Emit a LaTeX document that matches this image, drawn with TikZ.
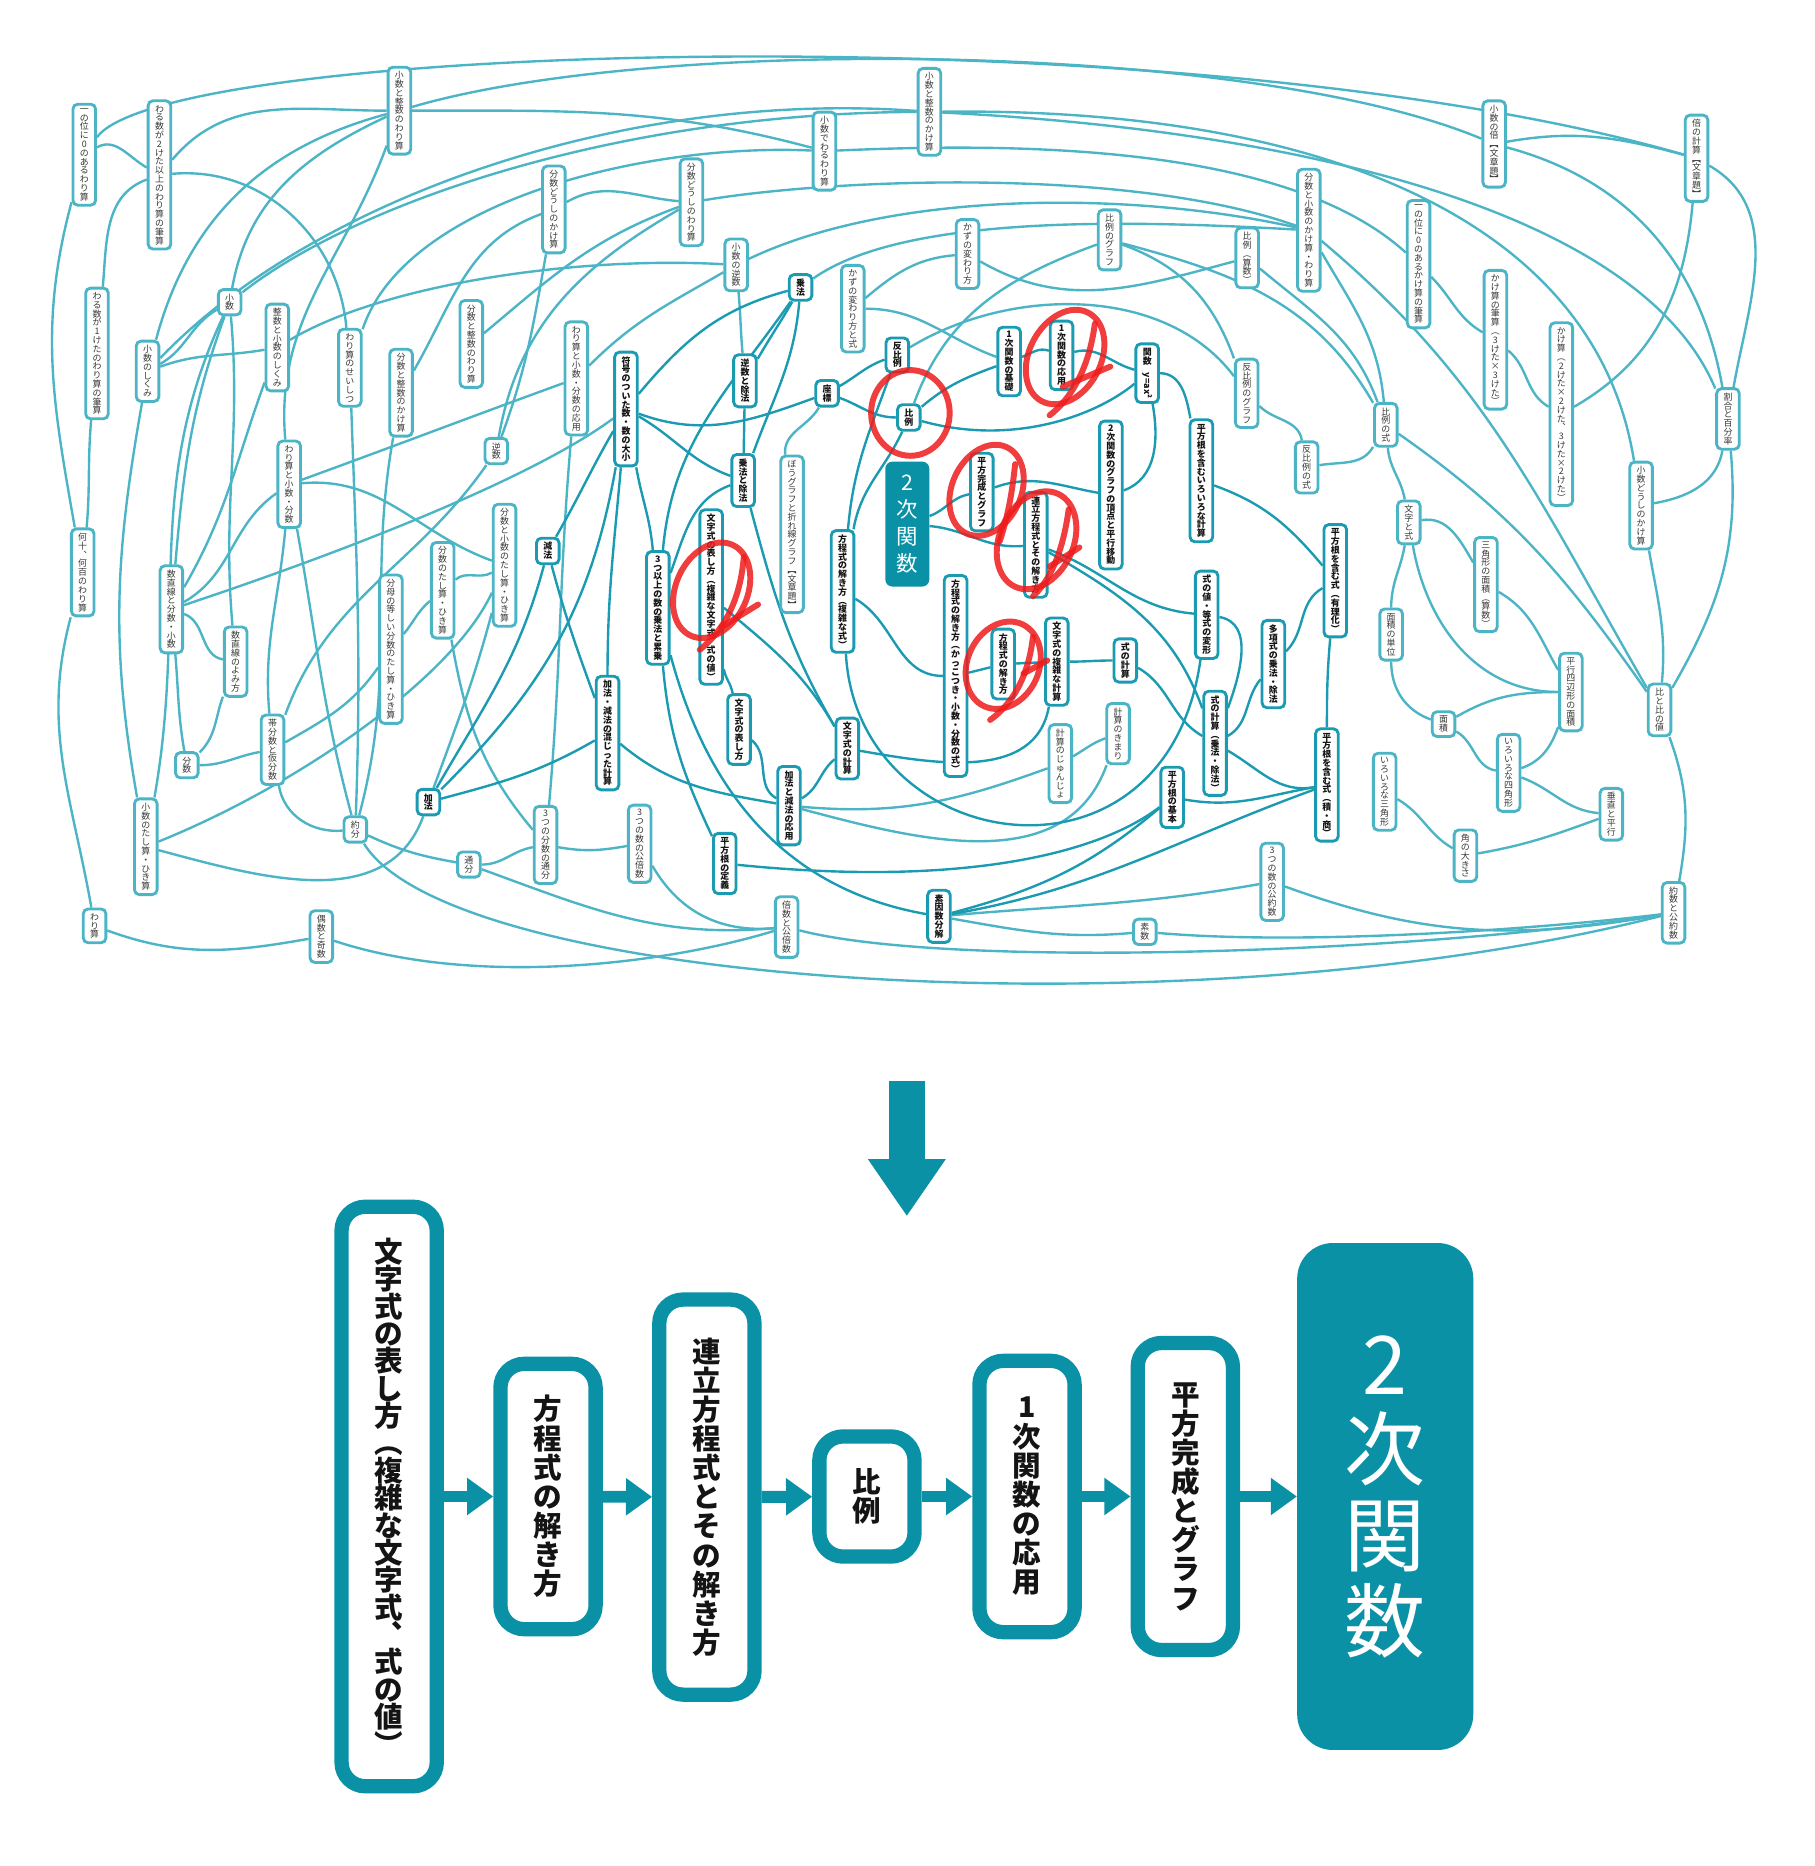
\documentclass[tikz,border=0pt]{standalone}
\usepackage{fontspec}
\setmainfont{Noto Sans CJK JP}
\usepackage{graphicx}
\usetikzlibrary{arrows.meta,backgrounds}

\definecolor{lineL}{HTML}{4BB4C5}
\definecolor{lineD}{HTML}{1A9BB1}
\definecolor{tealD}{HTML}{0A91A6}
\definecolor{textL}{HTML}{383838}
\definecolor{textD}{HTML}{141414}
\definecolor{markred}{HTML}{EE1C1C}

% one glyph per line
\makeatletter
\def\vt#1{\vt@a#1\vt@end}
\def\vt@end{}
\def\vt@a#1#2{#1\ifx#2\vt@end\expandafter\@gobble\else\expandafter\vt@b\fi{#2}}
\def\vt@b#1{\\\vt@a#1}
\makeatother
\newcommand\smallvt{\fontsize{7.5pt}{7.4pt}\selectfont\lineskiplimit=-30pt\relax}
\newcommand\stepvt{\fontsize{24pt}{24.5pt}\selectfont\bfseries\lineskiplimit=-30pt\relax}
\newcommand\steptight{\fontsize{24pt}{23pt}\selectfont\bfseries\lineskiplimit=-30pt\relax}
\newcommand\midvt{\fontsize{18pt}{22.5pt}\selectfont\lineskiplimit=-30pt\relax}
\newcommand\bigvt{\fontsize{68pt}{72pt}\selectfont\lineskiplimit=-40pt\relax}

\begin{document}
\begin{tikzpicture}[x=1pt,y=-1pt,
  el/.style={rectangle, rounded corners=4pt, draw=lineL, line width=2.4pt, fill=white,
             text=textL, font=\smallvt, align=center, inner xsep=4pt, inner ysep=3.5pt,
             minimum width=19pt},
  ms/.style={el, draw=lineD, text=textD, font=\smallvt\bfseries},
  lk/.style={draw=lineL, line width=2pt},
  dk/.style={draw=lineD, line width=2pt},
  stepbox/.style={rectangle, rounded corners=20pt, draw=tealD, line width=12pt, fill=white,
                  text=textD, font=\stepvt, align=center, inner sep=0pt, minimum width=80pt},
  flow/.style={draw=tealD, line width=10pt, -{Triangle[length=22pt,width=30pt]}},
  bigdown/.style={draw=tealD, line width=30pt, -{Triangle[length=48pt,width=62pt]}},
  redmark/.style={draw=markred, line width=5pt, opacity=.85, line cap=round}
]
\useasboundingbox (0,0) rectangle (1525,1568);

% elementary topics
\node[el] (ichi0w) at (70.8,130) {\vt{一の位に0のあるわり算}};
\node[el] (war2) at (134,147) {\vt{わる数が2けた以上のわり算の筆算}};
\node[el] (shoseiw) at (335.6,93) {\vt{小数と整数のわり算}};
\node[el] (shoseik) at (781,94) {\vt{小数と整数のかけ算}};
\node[el] (shodew) at (692.8,127) {\vt{小数でわるわり算}};
\node[el] (shobai) at (1255.5,121) {\vt{小数の倍︻文章題︼}};
\node[el] (baikei) at (1425.6,133) {\vt{倍の計算︻文章題︼}};
\node[el] (bunkake) at (465.4,176) {\vt{分数どうしのかけ算}};
\node[el] (bunwari) at (581,170) {\vt{分数どうしのわり算}};
\node[el] (bunshok) at (1099.8,193.5) {\vt{分数と小数のかけ算・わり算}};
\node[el] (ichi0k) at (1192,222) {\vt{一の位に0のあるかけ算の筆算}};
\node[el] (kazu) at (813,213.5) {\vt{かずの変わり方}};
\node[el] (hireig) at (932.4,201.6) {\vt{比例のグラフ}};
\node[el] (hireis) at (1048,216.7) {\vt{比例︵算数︶}};
\node[el] (shogyaku) at (618.6,222.6) {\vt{小数の逆数}};
\node[el] (kazushiki) at (716.6,259.4) {\vt{かずの変わり方と式}};
\node[el] (war1) at (81.5,297) {\vt{わる数が1けたのわり算の筆算}};
\node[el] (shosu) at (193,254) {\vt{小数}};
\node[el] (shoshiku) at (124,312) {\vt{小数のしくみ}};
\node[el] (seishoshiku) at (233,292) {\vt{整数と小数のしくみ}};
\node[el] (warisei) at (294,309) {\vt{わり算のせいしつ}};
\node[el] (bunseik) at (337,330) {\vt{分数と整数のかけ算}};
\node[el] (bunseiw) at (396,289) {\vt{分数と整数のわり算}};
\node[el] (warioyo) at (484.3,318) {\vt{わり算と小数・分数の応用}};
\node[el] (hanpig) at (1047.6,330.5) {\vt{反比例のグラフ}};
\node[el] (kake33) at (1256.6,285.5) {\vt{かけ算の筆算︵3けた×3けた︶}};
\node[el] (kake22) at (1312,348) {\vt{かけ算︵2けた×2けた︑3けた×2けた︶}};
\node[el] (wariai) at (1452,352) {\vt{割合と百分率}};
\node[el] (gyaku) at (417,379) {\vt{逆数}};
\node[el] (warishobun) at (243,407) {\vt{わり算と小数・分数}};
\node[el] (bougraph) at (665.6,449) {\vt{ぼうグラフと折れ線グラフ︻文章題︼}};
\node[el] (hireishiki) at (1164.5,357) {\vt{比例の式}};
\node[el] (hanpishiki) at (1098,392.8) {\vt{反比例の式}};
\node[el] (shoshoku) at (1379,424.8) {\vt{小数どうしのかけ算}};
\node[el] (mojishiki) at (1183.8,439) {\vt{文字と式}};
\node[el] (sankaku) at (1248.6,491.2) {\vt{三角形の面積︵算数︶}};
\node[el] (bunshotashi) at (424,475) {\vt{分数と小数のたし算・ひき算}};
\node[el] (buntashi) at (372,496) {\vt{分数のたし算・ひき算}};
\node[el] (nanjuu) at (69.5,481) {\vt{何十︑何百のわり算}};
\node[el] (suchoku) at (144,512) {\vt{数直線と分数・小数}};
\node[el] (suchokuyomi) at (198,556) {\vt{数直線のよみ方}};
\node[el] (bunbo) at (328.5,545.5) {\vt{分母の等しい分数のたし算・ひき算}};
\node[el] (menseki) at (1169,533.2) {\vt{面積の単位}};
\node[el] (men) at (1213,608.5) {\vt{面積}};
\node[el] (heikou4) at (1320,581.5) {\vt{平行四辺形の面積}};
\node[el] (shikaku) at (1267.7,649.4) {\vt{いろいろな四角形}};
\node[el] (hi) at (1394.5,596.5) {\vt{比と比の値}};
\node[el] (junjo) at (891,641.7) {\vt{計算のじゅんじょ}};
\node[el] (kimari) at (939.5,616.5) {\vt{計算のきまり}};
\node[el] (sankakkei) at (1163.5,665.3) {\vt{いろいろな三角形}};
\node[el] (suichoku) at (1354,684.2) {\vt{垂直と平行}};
\node[el] (kakudo) at (1231.4,719) {\vt{角の大きさ}};
\node[el] (taibun) at (229,630) {\vt{帯分数と仮分数}};
\node[el] (bunsu) at (157,643) {\vt{分数}};
\node[el] (yakubun) at (298.6,697) {\vt{約分}};
\node[el] (shotashi) at (122.5,711.5) {\vt{小数のたし算・ひき算}};
\node[el] (tsuubun) at (394,726.5) {\vt{通分}};
\node[el] (tsuubun3) at (458.4,710) {\vt{3つの分数の通分}};
\node[el] (koubai3) at (537.5,709) {\vt{3つの数の公倍数}};
\node[el] (baisu) at (661,779) {\vt{倍数と公倍数}};
\node[el] (sosu) at (962,783) {\vt{素数}};
\node[el] (kouyaku3) at (1069,741) {\vt{3つの数の公約数}};
\node[el] (yakusu) at (1406.3,767) {\vt{約数と公約数}};
\node[el] (warizan) at (79.5,778) {\vt{わり算}};
\node[el] (guki) at (270,787) {\vt{偶数と奇数}};

% middle school topics
\node[ms] (jouhou) at (672.7,241.5) {\vt{乗法}};
\node[ms] (fugou) at (526,343.7) {\vt{符号のついた数・数の大小}};
\node[ms] (gyakujo) at (626,320) {\vt{逆数と除法}};
\node[ms] (zahyo) at (695,330.5) {\vt{座標}};
\node[ms] (hanpi) at (754,298.3) {\vt{反比例}};
\node[ms] (hirei) at (763.7,350.8) {\vt{比例}};
\node[ms] (ichiji) at (848,303.8) {\vt{1次関数の基礎}};
\node[ms] (ichioyo) at (892,298.6) {\vt{1次関数の応用}};
\node[ms] (kansu) at (964,313.6) {\vt{関数}\\\rotatebox{-90}{y=ax²}};
\node[ms] (joujo) at (624.5,403.8) {\vt{乗法と除法}};
\node[ms] (heikan) at (825,413.5) {\vt{平方完成とグラフ}};
\node[ms] (nijig) at (933.5,416) {\vt{2次関数のグラフの頂点と平行移動}};
\node[ms] (heiiro) at (1009.5,404) {\vt{平方根を含むいろいろな計算}};
\node[ms] (renritsu) at (870.4,457.8) {\vt{連立方程式とその解き方}};
\node[ms] (yuuri) at (1122,488) {\vt{平方根を含む式︵有理化︶}};
\node[ms] (genpou) at (460.3,463) {\vt{減法}};
\node[ms] (ruijou) at (552.8,510.8) {\vt{3つ以上の数の乗法と累乗}};
\node[ms] (mojifuku) at (597.6,501.7) {\vt{文字式の表し方︵複雑な文字式︑式の値︶}};
\node[ms] (houfuku) at (708,497) {\vt{方程式の解き方︵複雑な式︶}};
\node[ms] (houkakko) at (803,568) {\vt{方程式の解き方︵かっこつき・小数・分数の式︶}};
\node[ms] (houtoki) at (843,558) {\vt{方程式の解き方}};
\node[ms] (mojikei) at (888,556) {\vt{文字式の複雑な計算}};
\node[ms] (shikikei) at (945.6,555) {\vt{式の計算}};
\node[ms] (shikiatai) at (1014,516.6) {\vt{式の値・等式の変形}};
\node[ms] (takou) at (1070,558) {\vt{多項式の乗法・除法}};
\node[ms] (kagen) at (510.5,616) {\vt{加法・減法の混じった計算}};
\node[ms] (mojiarawa) at (621,613) {\vt{文字式の表し方}};
\node[ms] (mojikeisan) at (712,629) {\vt{文字式の計算}};
\node[ms] (kagenoyo) at (663,677) {\vt{加法と減法の応用}};
\node[ms] (shikijo) at (1021,624.6) {\vt{式の計算︵乗法・除法︶}};
\node[ms] (sekishou) at (1115,659.6) {\vt{平方根を含む式︵積・商︶}};
\node[ms] (heikihon) at (985,670) {\vt{平方根の基本}};
\node[ms] (kahou) at (360,674) {\vt{加法}};
\node[ms] (heitei) at (609,725.6) {\vt{平方根の定義}};
\node[ms] (soinsu) at (789,770) {\vt{素因数分解}};
\node[rectangle, rounded corners=6pt, fill=tealD, text=white, align=center,
      font=\midvt, minimum width=37pt, minimum height=105pt,
      inner sep=0pt] (niji) at (762.4,440.4) {\vt{2次関数}};

\begin{scope}[on background layer]
\fill[white] (0,0) rectangle (1525,1568);
% elementary links
\draw[lk] (ichi0w) .. controls (140,35) and (1000,10) .. (baikei);
\draw[lk] (ichi0w) to[out=30,in=150] (war2);
\draw[lk] (war2) to[out=50,in=180] (shoseiw);
\draw[lk] (war2) to[out=5,in=95] (warisei);
\draw[lk] (war2) to[out=200,in=85] (war1);
\draw[lk] (ichi0w) to[out=255,in=100] (nanjuu);
\draw[lk] (war1) to[out=265,in=85] (nanjuu);
\draw[lk] (nanjuu) to[out=255,in=100] (warizan);
\draw[lk] (shoseiw) to[out=195,in=75] (shoshiku);
\draw[lk] (shoseiw) to[out=205,in=80] (shosu);
\draw[lk] (shoseiw) to[out=250,in=95] (warishobun);
\draw[lk] (shoseiw) .. controls (550,30) and (1050,35) .. (shobai);
\draw[lk] (shoseiw) to[out=0,in=165] (shodew);
\draw[lk] (shoshiku) .. controls (260,170) and (520,75) .. (shoseik);
\draw[lk] (shosu) .. controls (300,170) and (520,95) .. (shoseik);
\draw[lk] (warisei) .. controls (340,170) and (540,120) .. (shodew);
\draw[lk] (bunseik) to[out=60,in=200] (bunkake);
\draw[lk] (seishoshiku) .. controls (320,240) and (480,215) .. (shogyaku);
\draw[lk] (bunseiw) to[out=40,in=200] (bunwari);
\draw[lk] (bunwari) to[out=210,in=80] (gyaku);
\draw[lk] (bunkake) to[out=30,in=175] (bunwari);
\draw[lk] (bunkake) to[out=260,in=70] (gyaku);
\draw[lk] (shosu) to[out=210,in=30] (shoshiku);
\draw[lk] (shoshiku) to[out=20,in=190] (seishoshiku);
\draw[lk] (shosu) to[out=250,in=85] (suchoku);
\draw[lk] (shosu) to[out=275,in=95] (suchokuyomi);
\draw[lk] (shoshiku) to[out=260,in=100] (shotashi);
\draw[lk] (shosu) to[out=245,in=80] (shotashi);
\draw[lk] (seishoshiku) to[out=250,in=60] (suchoku);
\draw[lk] (warishobun) to[out=215,in=30] (suchoku);
\draw[lk] (warishobun) to[out=5,in=160] (bunshotashi);
\draw[lk] (warishobun) to[out=265,in=95] (taibun);
\draw[lk] (warishobun) to[out=280,in=105] (yakubun);
\draw[lk] (warishobun) to[out=20,in=200] (warioyo);
\draw[lk] (suchoku) .. controls (300,460) and (450,400) .. (fugou);
\draw[lk] (suchoku) to[out=-20,in=170] (suchokuyomi);
\draw[lk] (suchokuyomi) to[out=250,in=45] (bunsu);
\draw[lk] (suchoku) to[out=275,in=100] (bunsu);
\draw[lk] (bunsu) to[out=0,in=190] (taibun);
\draw[lk] (taibun) to[out=280,in=185] (yakubun);
\draw[lk] (bunbo) to[out=235,in=30] (taibun);
\draw[lk] (buntashi) to[out=220,in=50] (bunbo);
\draw[lk] (buntashi) to[out=40,in=210] (bunshotashi);
\draw[lk] (buntashi) to[out=280,in=130] (tsuubun3);
\draw[lk] (bunshotashi) to[out=255,in=70] (kahou);
\draw[lk] (shotashi) .. controls (250,660) and (380,570) .. (bunshotashi);
\draw[lk] (kahou) to[out=250,in=345] (shotashi);
\draw[lk] (warisei) to[out=272,in=88] (yakubun);
\draw[lk] (bunseik) to[out=260,in=75] (yakubun);
\draw[lk] (yakubun) to[out=-25,in=170] (tsuubun);
\draw[lk] (yakubun) .. controls (380,830) and (1000,870) .. (yakusu);
\draw[lk] (tsuubun) to[out=0,in=190] (tsuubun3);
\draw[lk] (tsuubun) to[out=-20,in=185] (baisu);
\draw[lk] (tsuubun3) to[out=-10,in=190] (koubai3);
\draw[lk] (koubai3) to[out=-60,in=185] (baisu);
\draw[lk] (warizan) to[out=-20,in=190] (guki);
\draw[lk] (guki) .. controls (400,830) and (560,810) .. (baisu);
\draw[lk] (baisu) .. controls (800,815) and (1200,800) .. (yakusu);
\draw[lk] (kouyaku3) to[out=-20,in=190] (yakusu);
\draw[lk] (sosu) .. controls (1100,795) and (1300,780) .. (yakusu);
\draw[lk] (hi) to[out=290,in=80] (yakusu);
\draw[lk] (baikei) to[out=-30,in=80] (wariai);
\draw[lk] (shobai) to[out=10,in=165] (baikei);
\draw[lk] (baikei) to[out=265,in=30] (kake22);
\draw[lk] (shobai) to[out=-15,in=100] (wariai);
\draw[lk] (shoseik) .. controls (1100,90) and (1340,180) .. (shoshoku);
\draw[lk] (shoseik) .. controls (1100,110) and (1380,180) .. (wariai);
\draw[lk] (shodew) .. controls (850,120) and (1080,120) .. (ichi0k);
\draw[lk] (bunwari) .. controls (700,150) and (950,140) .. (bunshok);
\draw[lk] (shogyaku) .. controls (750,160) and (950,160) .. (bunshok);
\draw[lk] (jouhou) .. controls (760,180) and (950,185) .. (bunshok);
\draw[lk] (kazushiki) to[out=40,in=185] (kazu);
\draw[lk] (kazushiki) to[out=0,in=160] (ichiji);
\draw[lk] (kazu) to[out=-30,in=195] (hireis);
\draw[lk] (hireig) to[out=200,in=70] (hirei);
\draw[lk] (hireig) to[out=-20,in=110] (hanpig);
\draw[lk] (hireig) to[out=-15,in=120] (hireishiki);
\draw[lk] (hireis) to[out=-40,in=110] (hireishiki);
\draw[lk] (bunshok) to[out=-60,in=95] (hireishiki);
\draw[lk] (bunshok) to[out=-40,in=120] (hi);
\draw[lk] (hireishiki) to[out=-35,in=125] (hi);
\draw[lk] (hireishiki) to[out=240,in=10] (hanpishiki);
\draw[lk] (hanpig) to[out=-45,in=100] (hanpishiki);
\draw[lk] (hireishiki) to[out=275,in=100] (mojishiki);
\draw[lk] (mojishiki) to[out=10,in=120] (sankaku);
\draw[lk] (mojishiki) to[out=260,in=90] (menseki);
\draw[lk] (mojishiki) to[out=280,in=180] (heikou4);
\draw[lk] (sankaku) to[out=-30,in=120] (heikou4);
\draw[lk] (menseki) to[out=270,in=160] (men);
\draw[lk] (men) to[out=30,in=180] (heikou4);
\draw[lk] (men) to[out=-30,in=170] (shikaku);
\draw[lk] (shikaku) to[out=20,in=250] (heikou4);
\draw[lk] (shikaku) to[out=-20,in=175] (suichoku);
\draw[lk] (suichoku) to[out=200,in=10] (kakudo);
\draw[lk] (sankakkei) to[out=-30,in=150] (kakudo);
\draw[lk] (shoshoku) to[out=10,in=260] (wariai);
\draw[lk] (shoshoku) to[out=280,in=85] (hi);
\draw[lk] (wariai) to[out=275,in=60] (hi);
\draw[lk] (ichi0k) to[out=-45,in=150] (kake33);
\draw[lk] (kake33) to[out=-40,in=150] (kake22);
\draw[lk] (hanpi) .. controls (850,240) and (980,240) .. (hanpig);
\draw[lk] (gyaku) to[out=235,in=70] (taibun);
\draw[lk] (shogyaku) to[out=275,in=95] (gyakujo);
\draw[lk] (zahyo) to[out=240,in=95] (bougraph);
\draw[lk] (shogyaku) to[out=210,in=45] (warioyo);
\draw[lk] (warioyo) to[out=265,in=85] (tsuubun3);
\draw[lk] (soinsu) to[out=5,in=190] (kouyaku3);
\draw[lk] (soinsu) to[out=-10,in=185] (sosu);
\draw[lk] (kagenoyo) to[out=-5,in=200] (junjo);
\draw[lk] (kagenoyo) to[out=-15,in=250] (kimari);
\draw[lk] (junjo) to[out=30,in=200] (kimari);
% middle school links
\draw[dk] (jouhou) to[out=240,in=60] (gyakujo);
\draw[dk] (jouhou) to[out=195,in=50] (fugou);
\draw[dk] (jouhou) to[out=235,in=85] (ruijou);
\draw[dk] (jouhou) to[out=265,in=70] (joujo);
\draw[dk] (gyakujo) -- (joujo);
\draw[dk] (fugou) to[out=-30,in=160] (joujo);
\draw[dk] (fugou) to[out=-20,in=200] (zahyo);
\draw[dk] (fugou) to[out=240,in=60] (genpou);
\draw[dk] (fugou) to[out=280,in=95] (ruijou);
\draw[dk] (fugou) to[out=265,in=90] (kagen);
\draw[dk] (fugou) to[out=260,in=45] (kahou);
\draw[dk] (joujo) to[out=200,in=70] (ruijou);
\draw[dk] (joujo) to[out=285,in=120] (mojikeisan);
\draw[dk] (zahyo) to[out=30,in=200] (hanpi);
\draw[dk] (zahyo) to[out=-20,in=180] (hirei);
\draw[dk] (hanpi) to[out=250,in=85] (houfuku);
\draw[dk] (hirei) to[out=245,in=80] (houfuku);
\draw[dk] (hirei) to[out=40,in=200] (ichiji);
\draw[dk] (hirei) .. controls (850,375) and (920,350) .. (kansu);
\draw[dk] (ichiji) to[out=20,in=160] (ichioyo);
\draw[dk] (ichioyo) to[out=15,in=165] (kansu);
\draw[dk] (kansu) to[out=280,in=20] (nijig);
\draw[dk] (kansu) to[out=0,in=100] (heiiro);
\draw[dk] (heikan) to[out=20,in=170] (nijig);
\draw[dk] (niji) to[out=20,in=190] (heikan);
\draw[dk] (niji) to[out=-5,in=185] (renritsu);
\draw[dk] (heiiro) to[out=-20,in=130] (yuuri);
\draw[dk] (yuuri) to[out=210,in=45] (takou);
\draw[dk] (yuuri) to[out=265,in=90] (sekishou);
\draw[dk] (renritsu) to[out=-20,in=175] (shikiatai);
\draw[dk] (renritsu) to[out=-30,in=110] (shikijo);
\draw[dk] (shikiatai) to[out=-10,in=70] (shikijo);
\draw[dk] (houfuku) .. controls (720,720) and (980,760) .. (shikiatai);
\draw[dk] (mojikei) to[out=260,in=-10] (mojikeisan);
\draw[dk] (houkakko) -- (houtoki);
\draw[dk] (houtoki) -- (mojikei);
\draw[dk] (mojikei) to[out=0,in=180] (shikikei);
\draw[dk] (shikikei) to[out=-30,in=150] (shikijo);
\draw[dk] (houfuku) to[out=-30,in=180] (houkakko);
\draw[dk] (takou) to[out=230,in=30] (shikijo);
\draw[dk] (shikijo) to[out=-30,in=190] (sekishou);
\draw[dk] (heikihon) to[out=-10,in=190] (sekishou);
\draw[dk] (soinsu) to[out=10,in=200] (sekishou);
\draw[dk] (soinsu) to[out=15,in=220] (heikihon);
\draw[dk] (ruijou) to[out=285,in=170] (soinsu);
\draw[dk] (ruijou) to[out=275,in=115] (heitei);
\draw[dk] (heitei) .. controls (800,745) and (920,720) .. (heikihon);
\draw[dk] (genpou) to[out=285,in=110] (kagen);
\draw[dk] (genpou) to[out=255,in=60] (kahou);
\draw[dk] (kagen) to[out=210,in=15] (kahou);
\draw[dk] (kagen) to[out=-40,in=170] (kagenoyo);
\draw[dk] (mojiarawa) to[out=-40,in=150] (kagenoyo);
\draw[dk] (mojikeisan) to[out=220,in=30] (kagenoyo);
\draw[dk] (mojifuku) to[out=280,in=100] (mojiarawa);
\draw[dk] (mojifuku) to[out=-40,in=120] (mojikeisan);
\end{scope}

% hand marks
\draw[redmark] (765,347) ellipse [x radius=33, y radius=36];
\draw[redmark, rotate around={-28:(895,300)}] (895,300) ellipse [x radius=30, y radius=42];
\draw[redmark] (920,272) .. controls (915,310) and (900,335) .. (882,349);
\draw[redmark] (893,325) -- (933,308);
\draw[redmark, rotate around={-25:(829,412)}] (829,412) ellipse [x radius=29, y radius=40];
\draw[redmark] (853,390) .. controls (850,420) and (845,440) .. (840,455);
\draw[redmark, rotate around={-25:(871,454)}] (871,454) ellipse [x radius=31, y radius=43];
\draw[redmark] (898,428) .. controls (893,465) and (882,488) .. (868,501);
\draw[redmark] (882,476) -- (907,460);
\draw[redmark, rotate around={-25:(843,559)}] (843,559) ellipse [x radius=30, y radius=38];
\draw[redmark] (868,535) .. controls (864,570) and (850,592) .. (832,605);
\draw[redmark] (860,566) -- (880,555);
\draw[redmark, rotate around={-25:(598,496)}] (598,496) ellipse [x radius=30, y radius=42];
\draw[redmark] (625,468) .. controls (622,505) and (608,530) .. (588,546);
\draw[redmark] (606,527) -- (637,508);

% arrow down to the path
\coordinate (arrtop) at (762,908);
\coordinate (arrtip) at (762,1022);
\draw[bigdown] (arrtop) -- (arrtip);

% the path
\node[stepbox, minimum height=487pt, font=\steptight]
  (q1) at (327,1257.5) {\vt{文字式の表し方︵複雑な文字式︑式の値︶}};
\node[stepbox, minimum height=223pt] (q2) at (460.5,1257.5) {\vt{方程式の解き方}};
\node[stepbox, minimum height=332pt] (q3) at (594,1258) {\vt{連立方程式とその解き方}};
\node[stepbox, minimum height=101pt] (q4) at (728.5,1257.5) {\vt{比例}};
\node[stepbox, minimum height=228pt] (q5) at (863,1257.5) {\vt{1次関数の応用}};
\node[stepbox, minimum height=258pt] (q6) at (996,1257.5) {\vt{平方完成とグラフ}};
\node[rectangle, rounded corners=30pt, fill=tealD, text=white, font=\bigvt, align=center,
      minimum width=148pt, minimum height=426pt, inner sep=0pt]
  (q7) at (1164,1257.5) {\vt{2次関数}};
\draw[flow] (q1) -- (q2);
\draw[flow] (q2) -- (q3);
\draw[flow] (q3) -- (q4);
\draw[flow] (q4) -- (q5);
\draw[flow] (q5) -- (q6);
\draw[flow] (q6) -- (q7);
\end{tikzpicture}
\end{document}
